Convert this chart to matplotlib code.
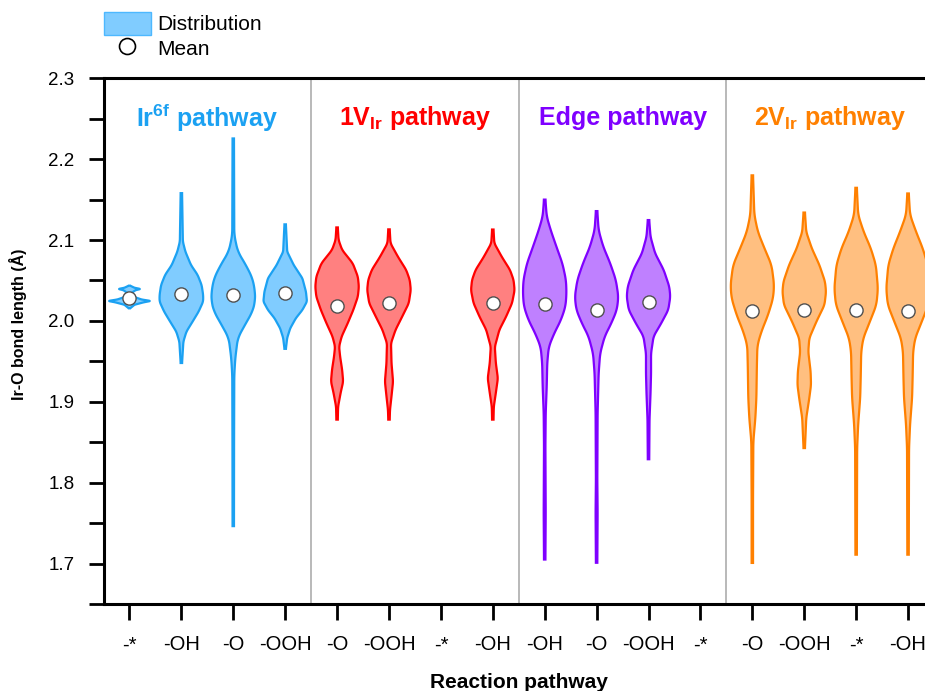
import numpy as np
import matplotlib.pyplot as plt
from matplotlib.patches import Patch
from matplotlib.lines import Line2D

plt.rcParams['font.family'] = ['Liberation Sans', 'DejaVu Sans']
plt.rcParams['mathtext.fontset'] = 'custom'
plt.rcParams['mathtext.rm'] = 'Liberation Sans'
plt.rcParams['mathtext.bf'] = 'Liberation Sans:bold'

# x categories (adsorbate states) along the four pathways
tick_labels = ['-*', '-OH', '-O', '-OOH', '-O', '-OOH', '-*', '-OH',
               '-OH', '-O', '-OOH', '-*', '-O', '-OOH', '-*', '-OH']

group_names = ['Ir$^{\\mathbf{6f}}$ pathway', '1V$_{\\mathbf{Ir}}$ pathway',
               'Edge pathway', '2V$_{\\mathbf{Ir}}$ pathway']
group_edge = ['#1BA1F2', '#FF0000', '#7F00FF', '#FF8000']
group_fill = ['#80CCFF', '#FF8080', '#BF80FF', '#FFBF80']

violin_pos = [1, 2, 3, 4, 5, 6, 8, 9, 10, 11, 13, 14, 15, 16]
violin_group = [0, 0, 0, 0, 1, 1, 1, 2, 2, 2, 3, 3, 3, 3]

# mean Ir-O bond length of each state
mean_len = [2.028, 2.033, 2.032, 2.034,
            2.019, 2.022, 2.022,
            2.021, 2.014, 2.023,
            2.012, 2.014, 2.014, 2.012]

# density outline: bond length knots and relative density at each knot
profile_len = [
    [2.0156, 2.0200, 2.0230, 2.0247, 2.0265, 2.0295, 2.0345, 2.0380, 2.0395, 2.0410, 2.0436],
    [1.948, 1.9745, 1.9868, 1.999, 2.0115, 2.0239, 2.032, 2.0444, 2.057, 2.0691, 2.0856, 2.098, 2.158],
    [1.7463, 1.85, 1.933, 1.954, 1.979, 1.995, 2.0115, 2.024, 2.036, 2.0527, 2.069, 2.0856, 2.106, 2.2256],
    [1.9655, 1.979, 1.9909, 2.0033, 2.0136, 2.024, 2.036, 2.0527, 2.069, 2.0856, 2.1194],
    [1.878, 1.894, 1.911, 1.925, 1.9395, 1.956, 1.9683, 1.9807, 1.9972, 2.0136, 2.030, 2.0424, 2.0547, 2.0712, 2.0877, 2.100, 2.1156],
    [1.878, 1.890, 1.907, 1.925, 1.9478, 1.9725, 1.989, 2.0053, 2.0218, 2.0383, 2.0506, 2.063, 2.079, 2.096, 2.1132],
    [1.878, 1.894, 1.911, 1.929, 1.948, 1.968, 1.989, 2.005, 2.022, 2.038, 2.0506, 2.063, 2.079, 2.096, 2.113],
    [1.705, 1.763, 1.845, 1.886, 1.919, 1.948, 1.968, 1.985, 2.001, 2.0177, 2.034, 2.0506, 2.071, 2.092, 2.112, 2.129, 2.150],
    [1.701, 1.763, 1.804, 1.886, 1.935, 1.960, 1.981, 1.997, 2.0136, 2.030, 2.0506, 2.071, 2.092, 2.112, 2.1358],
    [1.829, 1.878, 1.911, 1.935, 1.960, 1.981, 1.997, 2.0136, 2.030, 2.0424, 2.063, 2.0836, 2.104, 2.1247],
    [1.7008, 1.781, 1.851, 1.880, 1.905, 1.9457, 1.970, 1.987, 2.0074, 2.028, 2.0445, 2.069, 2.0897, 2.110, 2.131, 2.180],
    [1.8428, 1.880, 1.9046, 1.921, 1.9374, 1.962, 1.9786, 1.9991, 2.0198, 2.0362, 2.0486, 2.069, 2.0897, 2.110, 2.134],
    [1.711, 1.843, 1.872, 1.905, 1.929, 1.962, 1.9786, 1.999, 2.0198, 2.040, 2.069, 2.0897, 2.110, 2.131, 2.1646],
    [1.711, 1.843, 1.872, 1.905, 1.929, 1.962, 1.9786, 1.999, 2.0198, 2.040, 2.069, 2.0897, 2.110, 2.131, 2.1576],
]
profile_dens = [
    [0.7, 5, 14, 21, 12, 5, 2, 6, 11, 5, 0.7],
    [0.7, 2, 5, 11, 17, 21.5, 21.5, 20, 16, 9.5, 4, 1.5, 0.7],
    [0.7, 0.8, 1, 2, 4.5, 11.5, 19, 21.5, 21.5, 19, 12.5, 4.5, 1, 0.7],
    [0.7, 2, 5, 10.5, 17, 21.5, 20.5, 17, 8.5, 2, 0.7],
    [0.7, 1, 3.5, 6, 5, 3, 2, 4.5, 10.5, 16, 20.5, 21.5, 20.5, 15.5, 5, 1.5, 0.7],
    [0.7, 1, 2.5, 4, 2.5, 2, 6.5, 13, 19.5, 21.5, 20.5, 17, 9, 1.5, 0.7],
    [0.7, 1, 3, 5, 3, 2, 6.5, 13, 19, 21.5, 20.5, 17, 9, 1.5, 0.7],
    [0.7, 1, 0.7, 1, 2, 2.5, 4, 9.5, 16, 20.5, 21.5, 21, 17.5, 11.5, 6, 2, 0.7],
    [0.7, 1, 0.7, 1, 2, 3.5, 8, 14.5, 20, 21.5, 19, 13.5, 6.5, 2, 0.7],
    [0.7, 1, 2, 2.5, 2.5, 5, 12.5, 19.5, 21.5, 20.5, 15, 6.5, 2, 0.7],
    [0.7, 0.7, 1, 3, 4, 4.5, 5, 9, 15.5, 20.5, 21.5, 19, 12, 5.5, 2, 0.7],
    [0.7, 2, 5, 6.7, 6.3, 4, 5, 12, 20, 21.5, 20.5, 15, 7.5, 2, 0.7],
    [0.7, 1, 2, 4, 4.5, 5, 7, 13.5, 20, 21.5, 19.5, 14.5, 7.5, 2, 0.7],
    [0.7, 1, 2, 4, 4.5, 5, 7, 13.5, 20, 21.5, 19.5, 14.5, 8, 2, 0.7],
]

half_width = 0.42   # half width of the widest violin in x units


def outline(v, d, n=500, k=17):
    y = np.linspace(v[0], v[-1], n)
    w = np.interp(y, v, d)
    w = np.convolve(np.pad(w, k // 2, mode='edge'), np.ones(k) / k, mode='valid')
    return y, w


fig = plt.figure(figsize=(9.25, 6.91), dpi=100)
ax = fig.add_axes([103.5 / 925, 1 - 604 / 691, 830.5 / 925, 525.7 / 691])

dmax = max(max(d) for d in profile_dens)
for pos, g, v, d in zip(violin_pos, violin_group, profile_len, profile_dens):
    y, w = outline(v, d)
    w = w / dmax * half_width
    ax.fill(np.concatenate([pos - w, (pos + w)[::-1]]),
            np.concatenate([y, y[::-1]]),
            facecolor=group_fill[g], edgecolor=group_edge[g], lw=1.6, zorder=2)

ax.plot(violin_pos, mean_len, ls='none', marker='o', ms=9.5, mfc='white',
        mec='#505050', mew=1.0, zorder=4)

for xs in [4.5, 8.5, 12.5]:
    ax.axvline(xs, color='#a6a6a6', lw=1.1, zorder=0)

for i, name in enumerate(group_names):
    ax.text(2.5 + 4 * i, 2.251, name, color=group_edge[i], fontsize=18,
            fontweight='bold', ha='center', va='center')

ax.set_xlim(0.5, 16.5)
ax.set_ylim(1.65, 2.3)
ax.set_xticks(range(1, 17))
ax.set_xticklabels(tick_labels)
ax.set_yticks(np.arange(1.7, 2.31, 0.1))
ax.set_yticks(np.arange(1.65, 2.3, 0.1), minor=True)
ax.yaxis.set_major_formatter(plt.FormatStrFormatter('%.1f'))
ax.tick_params(axis='x', direction='out', length=11.5, width=2, labelsize=14.5, pad=11)
ax.tick_params(axis='y', which='both', direction='out', length=11, width=2, labelsize=13.5, pad=10)
for s in ['left', 'bottom', 'top']:
    ax.spines[s].set_linewidth(2.2)
ax.spines['right'].set_visible(False)

fig.text(18 / 925, 1 - 324 / 691, 'Ir-O bond length (Å)', rotation=90,
         ha='center', va='center', fontsize=11.5, fontweight='bold')
fig.text(519 / 925, 1 - 682 / 691, 'Reaction pathway', ha='center', va='center',
         fontsize=15, fontweight='bold')

handles = [Patch(facecolor='#80CCFF', edgecolor='#4DB8FF', lw=1.0),
           Line2D([], [], ls='none', marker='o', ms=11.5, mfc='white', mec='black', mew=1.2)]
fig.legend(handles, ['Distribution', 'Mean'], loc='upper left',
           bbox_to_anchor=(104 / 925, 1 - 12 / 691), frameon=False, fontsize=15,
           handlelength=2.25, handleheight=1.3, handletextpad=0.3,
           labelspacing=0.1, borderpad=0, borderaxespad=0)

fig.savefig('out.png', dpi=100)
